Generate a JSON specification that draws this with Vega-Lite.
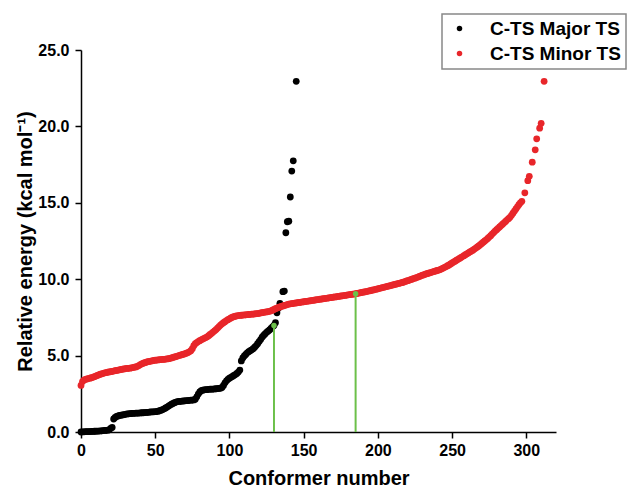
{
"$schema": "https://vega.github.io/schema/vega-lite/v6.json",
"width": 475, "height": 382,
"autosize": {"type": "none"},
"padding": {"left": 81, "top": 50, "right": 74, "bottom": 57},
"background": "white",
"config": {
 "view": {"stroke": null},
 "font": "Liberation Sans",
 "axis": {"grid": false, "domainColor": "#000", "domainWidth": 1.5, "tickColor": "#000", "tickWidth": 1.5, "labelFont": "Liberation Sans", "labelFontWeight": "bold", "labelFontSize": 16, "labelColor": "#000", "titleFont": "Liberation Sans", "titleFontWeight": "bold", "titleFontSize": 20, "titleColor": "#000"},
 "legend": {"orient": "none", "legendX": 361, "legendY": -36, "strokeColor": "#888", "strokeWidth": 1.5, "fillColor": "white", "padding": 5, "symbolSize": 30, "symbolType": "circle", "symbolOffset": 3, "labelOffset": 21, "rowPadding": 5, "labelFont": "Liberation Sans", "labelFontWeight": "bold", "labelFontSize": 19, "labelColor": "#000", "labelLimit": 300}
},
"datasets": {
 "major": [
{"n":0,"e":0.00},{"n":1,"e":0.01},{"n":2,"e":0.01},{"n":3,"e":0.02},{"n":4,"e":0.02},{"n":5,"e":0.03},{"n":6,"e":0.03},{"n":7,"e":0.04},{"n":8,"e":0.04},{"n":9,"e":0.05},
{"n":10,"e":0.05},{"n":11,"e":0.06},{"n":12,"e":0.06},{"n":13,"e":0.07},{"n":14,"e":0.08},{"n":15,"e":0.09},{"n":16,"e":0.10},{"n":17,"e":0.11},{"n":18,"e":0.12},{"n":19,"e":0.14},
{"n":20,"e":0.24},{"n":21,"e":0.30},{"n":22,"e":0.85},{"n":23,"e":0.95},{"n":24,"e":1.02},{"n":25,"e":1.05},{"n":26,"e":1.08},{"n":27,"e":1.10},{"n":28,"e":1.12},{"n":29,"e":1.14},
{"n":30,"e":1.16},{"n":31,"e":1.18},{"n":32,"e":1.19},{"n":33,"e":1.20},{"n":34,"e":1.21},{"n":35,"e":1.22},{"n":36,"e":1.22},{"n":37,"e":1.23},{"n":38,"e":1.24},{"n":39,"e":1.24},
{"n":40,"e":1.25},{"n":41,"e":1.26},{"n":42,"e":1.26},{"n":43,"e":1.27},{"n":44,"e":1.28},{"n":45,"e":1.29},{"n":46,"e":1.30},{"n":47,"e":1.31},{"n":48,"e":1.32},{"n":49,"e":1.32},
{"n":50,"e":1.33},{"n":51,"e":1.34},{"n":52,"e":1.36},{"n":53,"e":1.39},{"n":54,"e":1.43},{"n":55,"e":1.47},{"n":56,"e":1.52},{"n":57,"e":1.57},{"n":58,"e":1.63},{"n":59,"e":1.70},
{"n":60,"e":1.76},{"n":61,"e":1.82},{"n":62,"e":1.87},{"n":63,"e":1.92},{"n":64,"e":1.96},{"n":65,"e":1.99},{"n":66,"e":2.00},{"n":67,"e":2.01},{"n":68,"e":2.02},{"n":69,"e":2.03},
{"n":70,"e":2.04},{"n":71,"e":2.05},{"n":72,"e":2.06},{"n":73,"e":2.07},{"n":74,"e":2.08},{"n":75,"e":2.09},{"n":76,"e":2.10},{"n":77,"e":2.15},{"n":78,"e":2.30},{"n":79,"e":2.48},
{"n":80,"e":2.62},{"n":81,"e":2.70},{"n":82,"e":2.74},{"n":83,"e":2.76},{"n":84,"e":2.77},{"n":85,"e":2.78},{"n":86,"e":2.79},{"n":87,"e":2.80},{"n":88,"e":2.80},{"n":89,"e":2.81},
{"n":90,"e":2.82},{"n":91,"e":2.83},{"n":92,"e":2.84},{"n":93,"e":2.85},{"n":94,"e":2.87},{"n":95,"e":2.92},{"n":96,"e":3.05},{"n":97,"e":3.22},{"n":98,"e":3.35},{"n":99,"e":3.45},
{"n":100,"e":3.52},{"n":101,"e":3.58},{"n":102,"e":3.64},{"n":103,"e":3.70},{"n":104,"e":3.76},{"n":105,"e":3.83},{"n":106,"e":3.92},{"n":107,"e":4.05},{"n":108,"e":4.65},{"n":109,"e":4.85},
{"n":110,"e":4.98},{"n":111,"e":5.08},{"n":112,"e":5.18},{"n":113,"e":5.26},{"n":114,"e":5.32},{"n":115,"e":5.38},{"n":116,"e":5.45},{"n":117,"e":5.55},{"n":118,"e":5.66},{"n":119,"e":5.78},
{"n":120,"e":5.92},{"n":121,"e":6.05},{"n":122,"e":6.20},{"n":123,"e":6.32},{"n":124,"e":6.42},{"n":125,"e":6.52},{"n":126,"e":6.60},{"n":127,"e":6.68},{"n":128,"e":6.78},{"n":129,"e":6.88},
{"n":130,"e":6.97},{"n":131,"e":7.15},{"n":132,"e":7.80},{"n":133,"e":8.10},{"n":134,"e":8.42},{"n":136,"e":9.18},{"n":137,"e":9.22},{"n":138,"e":13.04},{"n":139,"e":13.76},{"n":140,"e":13.80},
{"n":141,"e":15.38},{"n":142,"e":17.08},{"n":143,"e":17.75},{"n":145,"e":22.95}
 ],
 "minor": [
{"n":0,"e":3.05},{"n":1,"e":3.30},{"n":2,"e":3.40},{"n":3,"e":3.44},{"n":4,"e":3.47},{"n":5,"e":3.50},{"n":6,"e":3.52},{"n":7,"e":3.55},{"n":8,"e":3.58},{"n":9,"e":3.62},
{"n":10,"e":3.66},{"n":11,"e":3.70},{"n":12,"e":3.74},{"n":13,"e":3.78},{"n":14,"e":3.81},{"n":15,"e":3.84},{"n":16,"e":3.87},{"n":17,"e":3.89},{"n":18,"e":3.91},{"n":19,"e":3.93},
{"n":20,"e":3.95},{"n":21,"e":3.97},{"n":22,"e":3.99},{"n":23,"e":4.01},{"n":24,"e":4.03},{"n":25,"e":4.05},{"n":26,"e":4.07},{"n":27,"e":4.09},{"n":28,"e":4.11},{"n":29,"e":4.13},
{"n":30,"e":4.15},{"n":31,"e":4.16},{"n":32,"e":4.17},{"n":33,"e":4.18},{"n":34,"e":4.20},{"n":35,"e":4.22},{"n":36,"e":4.24},{"n":37,"e":4.26},{"n":38,"e":4.30},{"n":39,"e":4.35},
{"n":40,"e":4.41},{"n":41,"e":4.46},{"n":42,"e":4.50},{"n":43,"e":4.54},{"n":44,"e":4.57},{"n":45,"e":4.60},{"n":46,"e":4.62},{"n":47,"e":4.64},{"n":48,"e":4.66},{"n":49,"e":4.68},
{"n":50,"e":4.70},{"n":51,"e":4.71},{"n":52,"e":4.72},{"n":53,"e":4.73},{"n":54,"e":4.74},{"n":55,"e":4.75},{"n":56,"e":4.76},{"n":57,"e":4.77},{"n":58,"e":4.78},{"n":59,"e":4.80},
{"n":60,"e":4.82},{"n":61,"e":4.85},{"n":62,"e":4.88},{"n":63,"e":4.91},{"n":64,"e":4.94},{"n":65,"e":4.97},{"n":66,"e":5.00},{"n":67,"e":5.03},{"n":68,"e":5.06},{"n":69,"e":5.09},
{"n":70,"e":5.12},{"n":71,"e":5.16},{"n":72,"e":5.20},{"n":73,"e":5.25},{"n":74,"e":5.32},{"n":75,"e":5.45},{"n":76,"e":5.65},{"n":77,"e":5.78},{"n":78,"e":5.85},{"n":79,"e":5.92},
{"n":80,"e":5.98},{"n":81,"e":6.03},{"n":82,"e":6.08},{"n":83,"e":6.13},{"n":84,"e":6.18},{"n":85,"e":6.23},{"n":86,"e":6.30},{"n":87,"e":6.38},{"n":88,"e":6.46},{"n":89,"e":6.54},
{"n":90,"e":6.62},{"n":91,"e":6.70},{"n":92,"e":6.80},{"n":93,"e":6.90},{"n":94,"e":7.00},{"n":95,"e":7.08},{"n":96,"e":7.15},{"n":97,"e":7.22},{"n":98,"e":7.29},{"n":99,"e":7.35},
{"n":100,"e":7.41},{"n":101,"e":7.46},{"n":102,"e":7.51},{"n":103,"e":7.55},{"n":104,"e":7.58},{"n":105,"e":7.60},{"n":106,"e":7.62},{"n":107,"e":7.63},{"n":108,"e":7.64},{"n":109,"e":7.65},
{"n":110,"e":7.66},{"n":111,"e":7.67},{"n":112,"e":7.68},{"n":113,"e":7.69},{"n":114,"e":7.70},{"n":115,"e":7.71},{"n":116,"e":7.72},{"n":117,"e":7.73},{"n":118,"e":7.74},{"n":119,"e":7.75},
{"n":120,"e":7.77},{"n":121,"e":7.79},{"n":122,"e":7.81},{"n":123,"e":7.83},{"n":124,"e":7.85},{"n":125,"e":7.86},{"n":126,"e":7.88},{"n":127,"e":7.90},{"n":128,"e":7.93},{"n":129,"e":7.97},
{"n":130,"e":8.02},{"n":131,"e":8.07},{"n":132,"e":8.11},{"n":133,"e":8.15},{"n":134,"e":8.18},{"n":135,"e":8.22},{"n":136,"e":8.25},{"n":137,"e":8.28},{"n":138,"e":8.31},{"n":139,"e":8.34},
{"n":140,"e":8.37},{"n":141,"e":8.39},{"n":142,"e":8.40},{"n":143,"e":8.42},{"n":144,"e":8.43},{"n":145,"e":8.45},{"n":146,"e":8.46},{"n":147,"e":8.48},{"n":148,"e":8.49},{"n":149,"e":8.51},
{"n":150,"e":8.52},{"n":151,"e":8.54},{"n":152,"e":8.55},{"n":153,"e":8.57},{"n":154,"e":8.58},{"n":155,"e":8.60},{"n":156,"e":8.61},{"n":157,"e":8.63},{"n":158,"e":8.64},{"n":159,"e":8.66},
{"n":160,"e":8.67},{"n":161,"e":8.69},{"n":162,"e":8.70},{"n":163,"e":8.72},{"n":164,"e":8.73},{"n":165,"e":8.75},{"n":166,"e":8.76},{"n":167,"e":8.78},{"n":168,"e":8.79},{"n":169,"e":8.81},
{"n":170,"e":8.82},{"n":171,"e":8.84},{"n":172,"e":8.85},{"n":173,"e":8.87},{"n":174,"e":8.88},{"n":175,"e":8.90},{"n":176,"e":8.91},{"n":177,"e":8.93},{"n":178,"e":8.94},{"n":179,"e":8.96},
{"n":180,"e":8.98},{"n":181,"e":8.99},{"n":182,"e":9.00},{"n":183,"e":9.02},{"n":184,"e":9.03},{"n":185,"e":9.05},{"n":186,"e":9.07},{"n":187,"e":9.09},{"n":188,"e":9.11},{"n":189,"e":9.13},
{"n":190,"e":9.15},{"n":191,"e":9.17},{"n":192,"e":9.19},{"n":193,"e":9.21},{"n":194,"e":9.23},{"n":195,"e":9.25},{"n":196,"e":9.28},{"n":197,"e":9.30},{"n":198,"e":9.32},{"n":199,"e":9.35},
{"n":200,"e":9.37},{"n":201,"e":9.40},{"n":202,"e":9.42},{"n":203,"e":9.45},{"n":204,"e":9.47},{"n":205,"e":9.50},{"n":206,"e":9.52},{"n":207,"e":9.55},{"n":208,"e":9.57},{"n":209,"e":9.60},
{"n":210,"e":9.62},{"n":211,"e":9.65},{"n":212,"e":9.67},{"n":213,"e":9.70},{"n":214,"e":9.72},{"n":215,"e":9.75},{"n":216,"e":9.77},{"n":217,"e":9.80},{"n":218,"e":9.83},{"n":219,"e":9.87},
{"n":220,"e":9.90},{"n":221,"e":9.93},{"n":222,"e":9.97},{"n":223,"e":10.00},{"n":224,"e":10.04},{"n":225,"e":10.07},{"n":226,"e":10.11},{"n":227,"e":10.14},{"n":228,"e":10.18},{"n":229,"e":10.22},
{"n":230,"e":10.26},{"n":231,"e":10.29},{"n":232,"e":10.33},{"n":233,"e":10.36},{"n":234,"e":10.39},{"n":235,"e":10.42},{"n":236,"e":10.45},{"n":237,"e":10.48},{"n":238,"e":10.51},{"n":239,"e":10.54},
{"n":240,"e":10.57},{"n":241,"e":10.60},{"n":242,"e":10.63},{"n":243,"e":10.68},{"n":244,"e":10.73},{"n":245,"e":10.78},{"n":246,"e":10.83},{"n":247,"e":10.88},{"n":248,"e":10.93},{"n":249,"e":11.00},
{"n":250,"e":11.06},{"n":251,"e":11.12},{"n":252,"e":11.18},{"n":253,"e":11.24},{"n":254,"e":11.30},{"n":255,"e":11.36},{"n":256,"e":11.42},{"n":257,"e":11.48},{"n":258,"e":11.54},{"n":259,"e":11.60},
{"n":260,"e":11.66},{"n":261,"e":11.72},{"n":262,"e":11.78},{"n":263,"e":11.84},{"n":264,"e":11.90},{"n":265,"e":11.97},{"n":266,"e":12.04},{"n":267,"e":12.11},{"n":268,"e":12.18},{"n":269,"e":12.26},
{"n":270,"e":12.34},{"n":271,"e":12.42},{"n":272,"e":12.50},{"n":273,"e":12.58},{"n":274,"e":12.67},{"n":275,"e":12.76},{"n":276,"e":12.85},{"n":277,"e":12.95},{"n":278,"e":13.05},{"n":279,"e":13.15},
{"n":280,"e":13.24},{"n":281,"e":13.33},{"n":282,"e":13.42},{"n":283,"e":13.51},{"n":284,"e":13.60},{"n":285,"e":13.69},{"n":286,"e":13.78},{"n":287,"e":13.87},{"n":288,"e":13.96},{"n":289,"e":14.05},
{"n":290,"e":14.18},{"n":291,"e":14.32},{"n":292,"e":14.46},{"n":293,"e":14.60},{"n":294,"e":14.74},{"n":295,"e":14.88},{"n":296,"e":15.00},{"n":297,"e":15.10},{"n":299,"e":15.65},{"n":301,"e":16.45},
{"n":302,"e":16.73},{"n":304,"e":17.66},{"n":306,"e":18.47},{"n":307,"e":19.19},{"n":309,"e":19.88},{"n":310,"e":20.20},{"n":312,"e":22.95}
 ],
 "marks": [{"n":130,"e":6.97},{"n":185,"e":9.05}]
},
"layer": [
 {"data": {"name": "major"},
  "mark": {"type": "circle", "size": 46, "opacity": 1},
  "encoding": {
   "x": {"field": "n", "type": "quantitative", "scale": {"domain": [0, 320], "nice": false, "zero": false},
     "axis": {"title": "Conformer number", "values": [0,25,50,75,100,125,150,175,200,225,250,275,300], "labelExpr": "datum.value % 50 === 0 ? datum.label : ''", "tickSize": {"condition": {"test": "datum.value % 50 === 0", "value": 6}, "value": 4}, "labelPadding": 4, "titlePadding": 10, "labelFlush": false}},
   "y": {"field": "e", "type": "quantitative", "scale": {"domain": [0, 25], "nice": false},
     "axis": {"title": "Relative energy (kcal mol⁻¹)", "values": [0,2.5,5,7.5,10,12.5,15,17.5,20,22.5,25], "format": ".1f", "labelExpr": "datum.value % 5 === 0 ? datum.label : ''", "tickSize": {"condition": {"test": "datum.value % 5 === 0", "value": 6}, "value": 4}, "labelPadding": 6, "titlePadding": 2, "labelFlush": false}},
   "color": {"datum": "C-TS Major TS", "scale": {"domain": ["C-TS Major TS", "C-TS Minor TS"], "range": ["#000000", "#e8262a"]}, "legend": {"title": null}}
  }},
 {"data": {"name": "minor"},
  "mark": {"type": "circle", "size": 46, "opacity": 1},
  "encoding": {
   "x": {"field": "n", "type": "quantitative"},
   "y": {"field": "e", "type": "quantitative"},
   "color": {"datum": "C-TS Minor TS"}
  }},
 {"data": {"name": "marks"},
  "mark": {"type": "rule", "color": "#6cc04a", "strokeWidth": 2},
  "encoding": {
   "x": {"field": "n", "type": "quantitative"},
   "y": {"field": "e", "type": "quantitative"},
   "y2": {"datum": 0}
  }},
 {"data": {"name": "marks"},
  "mark": {"type": "circle", "size": 30, "opacity": 1, "color": "#6cc04a"},
  "encoding": {
   "x": {"field": "n", "type": "quantitative"},
   "y": {"field": "e", "type": "quantitative"}
  }}
]
}
